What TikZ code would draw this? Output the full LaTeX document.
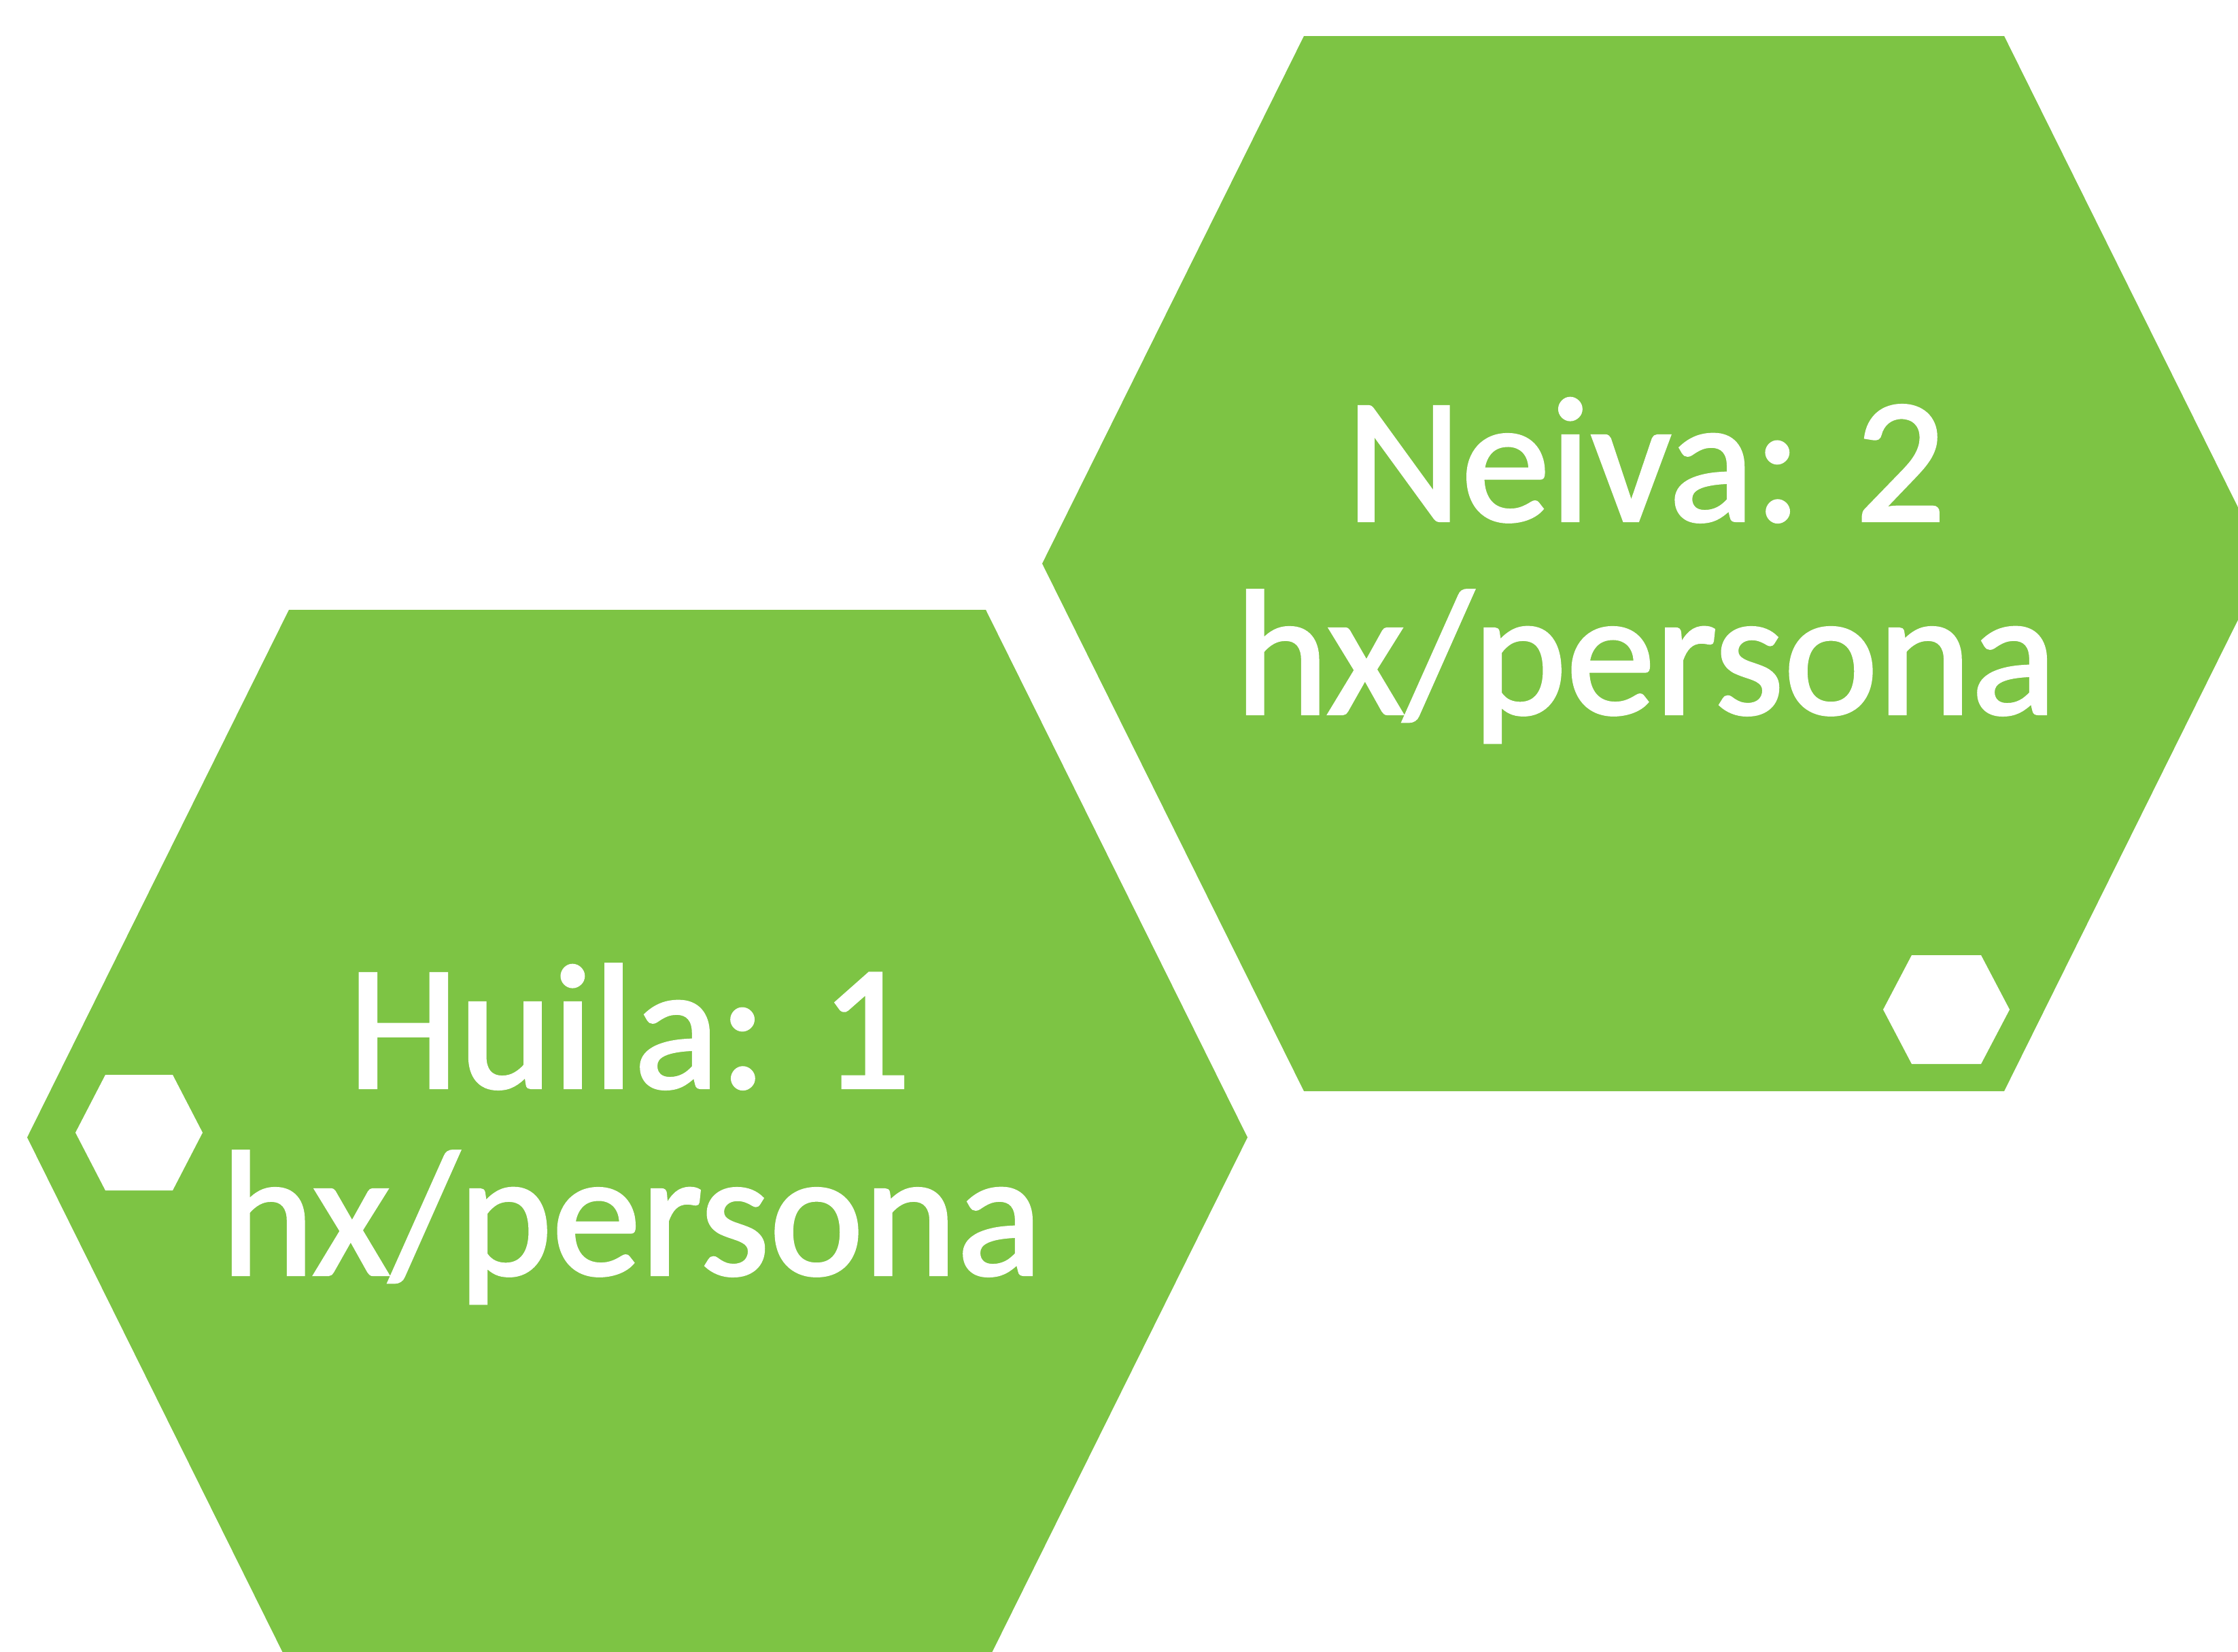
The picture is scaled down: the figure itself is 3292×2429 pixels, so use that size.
\documentclass[tikz,border=0pt]{standalone}
\usepackage{fontspec}
\setmainfont{Carlito}
\newfontfamily\lblfont{Carlito}[FakeBold=1.6]
\definecolor{hexgreen}{RGB}{125,196,68}
\begin{document}
\begin{tikzpicture}[x=0.01cm,y=-0.01cm,
  bighex/.style={fill=hexgreen},
  smallhex/.style={fill=white},
  lbl/.style={text=white,anchor=base,inner sep=0pt,font=\lblfont\fontsize{74.5pt}{80pt}\selectfont}]
\useasboundingbox (0,0) rectangle (3292,2429);
\clip (0,0) rectangle (3292,2429);
% left hexagon (Huila)
\fill[bighex] (425,897) -- (1450,897) -- (1835,1673) -- (1450,2449) -- (425,2449) -- (40,1673) -- cycle;
% right hexagon (Neiva)
\fill[bighex] (1918,53) -- (2948,53) -- (3333,829) -- (2948,1605) -- (1918,1605) -- (1533,829) -- cycle;
% small white hexagons
\fill[smallhex] (155,1581) -- (254,1581) -- (298,1666) -- (254,1751) -- (155,1751) -- (111,1666) -- cycle;
\fill[smallhex] (2812,1405) -- (2914,1405) -- (2956,1485) -- (2914,1565) -- (2812,1565) -- (2770,1485) -- cycle;
% labels
\node[lbl] (neiva) at (2421,766) {Neiva: 2};
\node[lbl] (neivaunit) at (2421,1050) {hx/persona};
\node[lbl] (huila) at (926,1600) {Huila: 1};
\node[lbl] (huilaunit) at (929,1875) {hx/persona};
\end{tikzpicture}
\end{document}
